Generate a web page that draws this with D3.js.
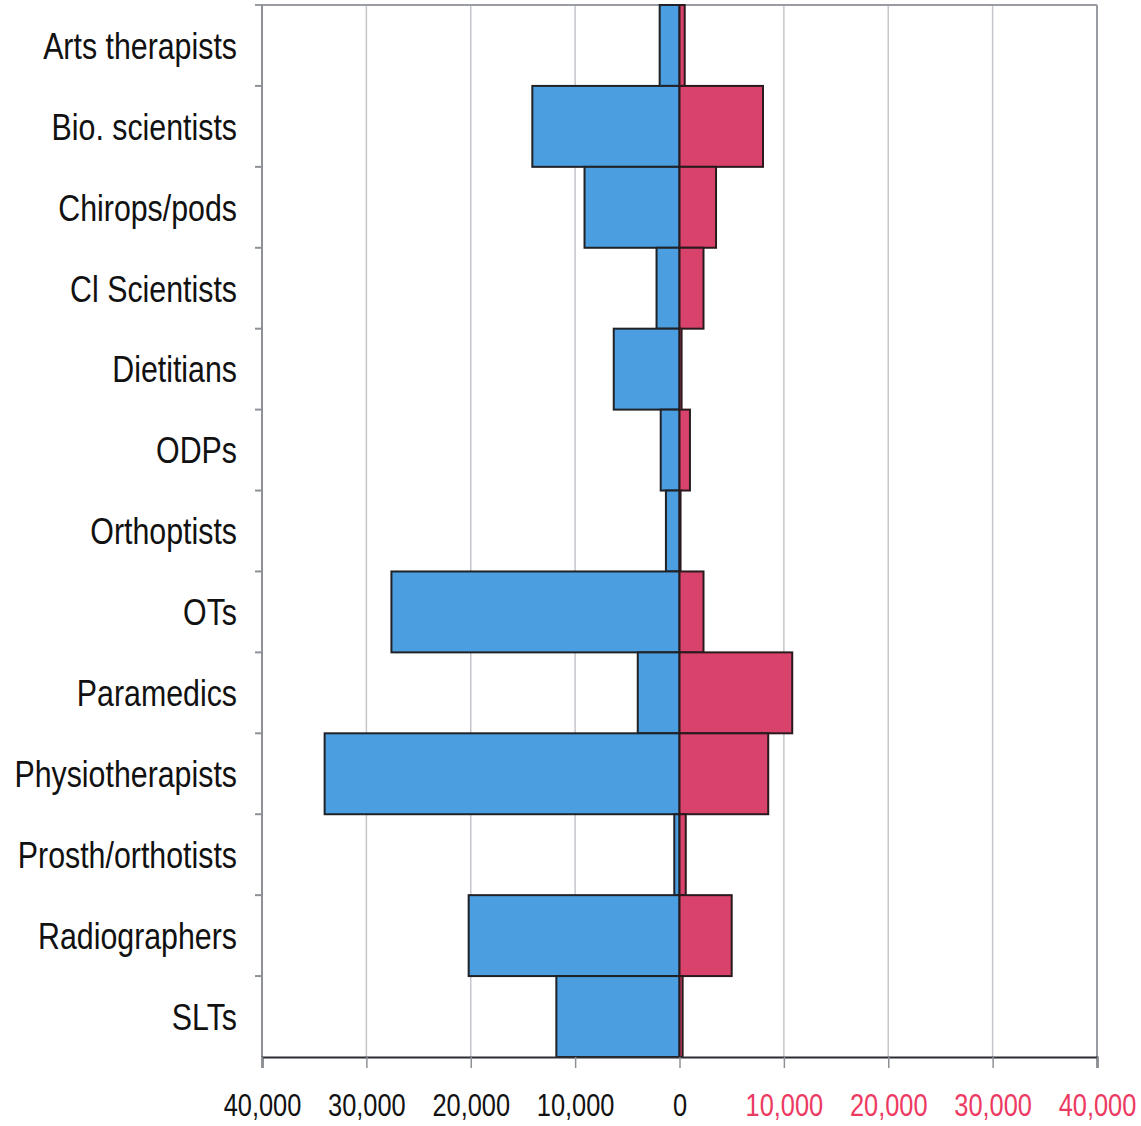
<!DOCTYPE html>
<html>
<head>
<meta charset="utf-8">
<script src="https://cdn.jsdelivr.net/npm/d3@7"></script>
<style>
    body { margin: 0; background: #fff; }
    svg text { font-family: "Liberation Sans", Arial, sans-serif; }
</style>
</head>
<body>
<div id="chart"></div>
<script>
// professions, top to bottom
const professions = [
    "Arts therapists", "Bio. scientists", "Chirops/pods", "Cl Scientists",
    "Dietitians", "ODPs", "Orthoptists", "OTs", "Paramedics",
    "Physiotherapists", "Prosth/orthotists", "Radiographers", "SLTs"
];
// left side (blue) and right side (red) values
const leftValues  = [1900, 14100, 9100, 2200, 6300, 1800, 1300, 27600, 4000, 34000, 500, 20200, 11800];
const rightValues = [500, 8000, 3500, 2300, 200, 1000, 100, 2300, 10800, 8500, 600, 5000, 300];
const xTicks = [-40000, -30000, -20000, -10000, 0, 10000, 20000, 30000, 40000];

const width = 1141;
const height = 1126;
const margin = { top: 5, right: 44, bottom: 69, left: 262 };
const narrow = 0.82; // squeeze text to look like a condensed face

const svg = d3.select("#chart").append("svg")
    .attr("width", width)
    .attr("height", height);

const x = d3.scaleLinear()
    .domain([-40000, 40000])
    .range([margin.left, width - margin.right]);

const y = d3.scaleBand()
    .domain(professions)
    .range([margin.top, height - margin.bottom])
    .padding(0);

// vertical gridlines
svg.append("g")
    .selectAll("line")
    .data(xTicks)
    .enter()
    .append("line")
    .attr("x1", d => x(d))
    .attr("x2", d => x(d))
    .attr("y1", margin.top)
    .attr("y2", height - margin.bottom)
    .style("stroke", "#c4c6cc")
    .style("stroke-width", 1.5);

// top border
svg.append("line")
    .attr("x1", x(-40000) - 7)
    .attr("x2", x(40000))
    .attr("y1", margin.top)
    .attr("y2", margin.top)
    .style("stroke", "#9a9ca4")
    .style("stroke-width", 2);

// right border
svg.append("line")
    .attr("x1", x(40000))
    .attr("x2", x(40000))
    .attr("y1", margin.top)
    .attr("y2", height - margin.bottom)
    .style("stroke", "#9a9ca4")
    .style("stroke-width", 2);

const data = professions.map((p, i) => ({ name: p, left: leftValues[i], right: rightValues[i] }));

// blue bars
svg.append("g")
    .selectAll("rect")
    .data(data)
    .enter()
    .append("rect")
    .attr("x", d => x(-d.left))
    .attr("y", d => y(d.name))
    .attr("width", d => x(0) - x(-d.left))
    .attr("height", y.bandwidth())
    .style("fill", "#4b9ee0")
    .style("stroke", "#1f2226")
    .style("stroke-width", 2);

// red bars
svg.append("g")
    .selectAll("rect")
    .data(data)
    .enter()
    .append("rect")
    .attr("x", x(0))
    .attr("y", d => y(d.name))
    .attr("width", d => x(d.right) - x(0))
    .attr("height", y.bandwidth())
    .style("fill", "#d9426b")
    .style("stroke", "#2a1a1e")
    .style("stroke-width", 2);

// left axis with ticks at band boundaries
const leftAxis = svg.append("g");
leftAxis.append("line")
    .attr("x1", margin.left)
    .attr("x2", margin.left)
    .attr("y1", margin.top)
    .attr("y2", height - margin.bottom)
    .style("stroke", "#8e9098")
    .style("stroke-width", 2);
leftAxis.selectAll(".btick")
    .data(professions.slice(1))
    .enter()
    .append("line")
    .attr("x1", margin.left - 7)
    .attr("x2", margin.left)
    .attr("y1", d => y(d))
    .attr("y2", d => y(d))
    .style("stroke", "#8e9098")
    .style("stroke-width", 2);

leftAxis.selectAll("text")
    .data(professions)
    .enter()
    .append("text")
    .attr("transform", d => `translate(237,${y(d) + y.bandwidth() / 2}) scale(${narrow},1)`)
    .attr("dy", "0.36em")
    .attr("text-anchor", "end")
    .style("font-size", "37px")
    .style("fill", "#111")
    .text(d => d);

// bottom axis
const fmt = d3.format(",");
const bottomAxis = svg.append("g")
    .attr("transform", `translate(0,${height - margin.bottom})`)
    .call(d3.axisBottom(x).tickValues(xTicks).tickSize(11).tickPadding(26).tickFormat(d => fmt(Math.abs(d))));

bottomAxis.select(".domain")
    .style("stroke", "#2b2d33")
    .style("stroke-width", 2);
bottomAxis.selectAll(".tick line")
    .style("stroke", "#8e9098")
    .style("stroke-width", 1.5);
bottomAxis.selectAll(".tick text")
    .attr("transform", `scale(${narrow},1)`)
    .style("font-size", "31px")
    .style("font-family", "\"Liberation Sans\", Arial, sans-serif")
    .style("fill", d => d > 0 ? "#ec3a62" : "#111");
</script>
</body>
</html>
